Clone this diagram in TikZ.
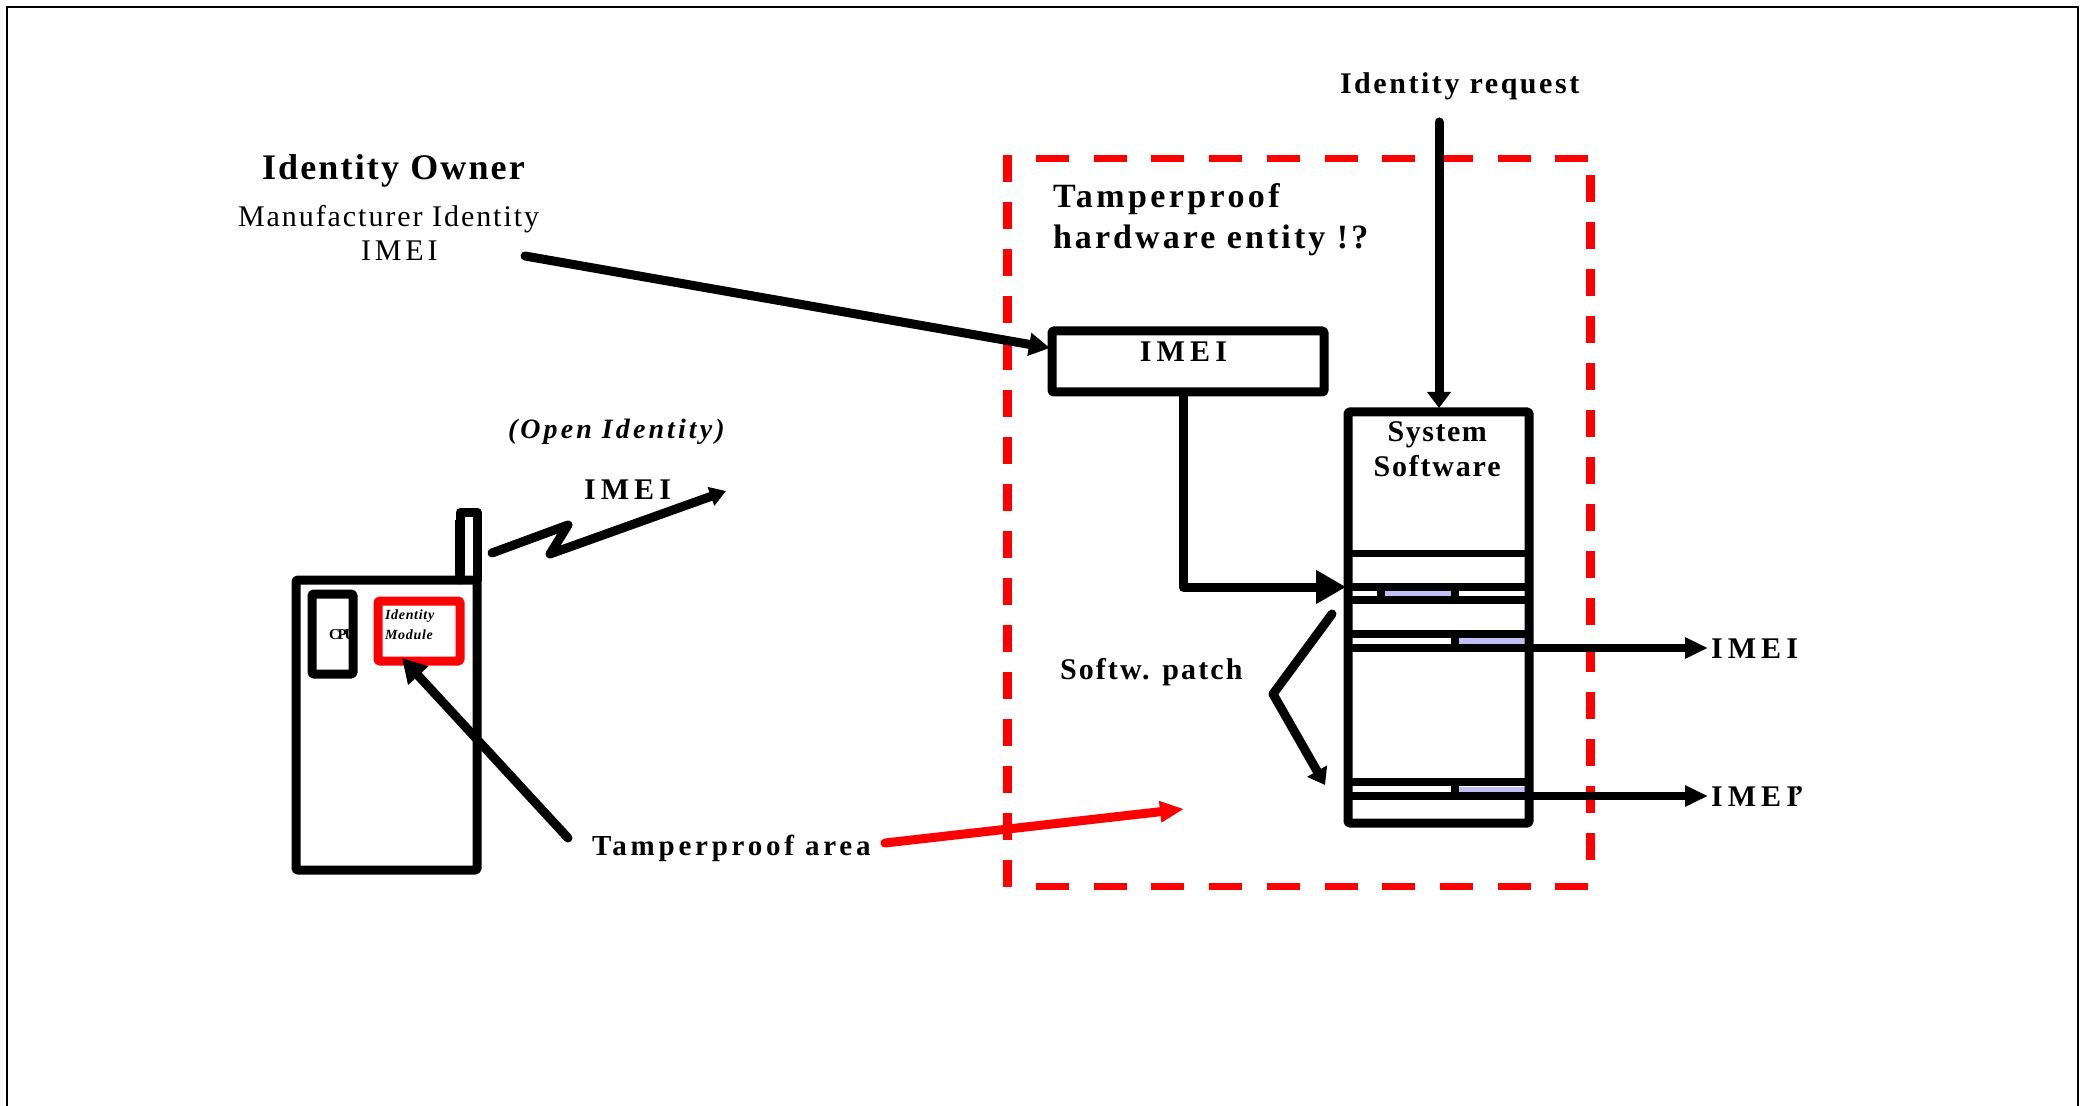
\documentclass[tikz,border=0pt]{standalone}
\usepackage{fontspec}
\setmainfont{Liberation Serif}
\usetikzlibrary{arrows.meta}
\definecolor{slotblue}{HTML}{C0C0F6}
\newcommand{\txt}[3]{\fontsize{#1}{#1}\selectfont\addfontfeature{LetterSpace=#2}#3}
\tikzset{
  x=.5pt,y=-.5pt,
  heavy/.style={line width=4.5pt,line join=round,line cap=round,draw=black},
  thinrule/.style={line width=3.5pt,draw=black},
  boxed/.style={draw=black,line width=4.5pt,line join=round,rounded corners=.6pt,inner sep=0pt,outer sep=0pt,fill=none},
  tag/.style={anchor=base west,inner sep=0pt,outer sep=0pt,text=black},
  ctag/.style={anchor=base,inner sep=0pt,outer sep=0pt,text=black,align=center},
  midhead/.style={-{Triangle[length=10.5pt,width=11pt]}},
  smallhead/.style={-{Triangle[length=8pt,width=11pt]}},
  hdash/.style={draw=red,line width=3.5pt,dash pattern=on 16.5pt off 12.35pt},
  vdash/.style={draw=red,line width=4.5pt,dash pattern=on 13.5pt off 10pt},
}
\begin{document}
\begin{tikzpicture}
\useasboundingbox (0,0) rectangle (2080,1106);
% outer frame
\draw[line width=1.2pt,draw=black] (7,1106) -- (7,7) -- (2078,7) -- (2078,1106);

% tamperproof dashed region
\coordinate (ta) at (1036,159); \coordinate (tb) at (1588,159);
\coordinate (ra) at (1590.5,175); \coordinate (rb) at (1590.5,864);
\coordinate (ba) at (1036,886); \coordinate (bb) at (1589,886);
\coordinate (la) at (1007,155); \coordinate (lb) at (1007,890);
\draw[hdash] (ta) -- (tb);
\draw[vdash] (ra) -- (rb);
\draw[hdash] (ba) -- (bb);
\draw[vdash] (la) -- (lb);

% system software stack
\fill[slotblue] (1385,591) rectangle (1451,597);
\fill[slotblue] (1459,638) rectangle (1525,644);
\fill[slotblue] (1459,787) rectangle (1525,793);
\node[boxed,minimum width=90.5pt,minimum height=205.5pt] (sys) at (1438.5,617.5) {};
\draw[thinrule] (1348,553) -- (1531,553);
\draw[heavy,line cap=butt,line width=4pt] (1348,587) -- (1529,587);
\draw[heavy,line cap=butt,line width=4pt] (1348,600) -- (1529,600);
\draw[heavy,line cap=butt,line width=4pt] (1348,634) -- (1529,634);
\draw[heavy,line cap=butt,line width=4pt] (1348,648) -- (1529,648);
\draw[heavy,line cap=butt,line width=4pt] (1348,782) -- (1529,782);
\draw[heavy,line cap=butt,line width=4pt] (1348,796) -- (1529,796);
\draw[heavy,line cap=butt,line width=4pt] (1381,587) -- (1381,600);
\draw[heavy,line cap=butt,line width=4pt] (1455,587) -- (1455,600);
\draw[heavy,line cap=butt,line width=4pt] (1455,634) -- (1455,648);
\draw[heavy,line cap=butt,line width=4pt] (1455,782) -- (1455,796);
\node[ctag] (sysa) at (1438,442) {\txt{15pt}{5}{\textbf{System}}};
\node[ctag] (sysb) at (1438,476) {\txt{15pt}{6}{\textbf{Software}}};

% IMEI box
\node[boxed,minimum width=136pt,minimum height=30.5pt] (imeibox) at (1188,361.5) {};
\node[ctag] (imeilab) at (1186,362) {\txt{15pt}{17}{\textbf{IMEI}}};

% phone
\node[boxed,minimum width=90.5pt,minimum height=145pt] (phone) at (386.5,725) {};
\node[tag] (cpulab) at (329,639) {\txt{7.5pt}{-15}{\textbf{CPU}}};
\node[boxed,minimum width=20.5pt,minimum height=40pt] (cpu) at (332.5,634) {};
\node[boxed,draw=red,minimum width=41pt,minimum height=30pt] (module) at (419,631) {};
\node[tag] (moda) at (385,619) {\txt{7pt}{5}{\textbf{\textit{Identity}}}};
\node[tag] (modb) at (385,639) {\txt{7pt}{5}{\textbf{\textit{Module}}}};
\coordinate (antl) at (460,580); \coordinate (antlt) at (460,512);
\coordinate (antrt) at (477,512); \coordinate (antr) at (477,580);
\draw[heavy] (antl) -- (antlt) -- (antrt) -- (antr);
\draw[line width=5pt,line cap=butt] (460,520) -- (460,580);

% labels
\node[tag] (owner) at (262,180) {\txt{18pt}{6}{\textbf{Identity Owner}}};
\node[tag] (manu) at (238,227) {\txt{15pt}{6.5}{Manufacturer Identity}};
\node[tag] (manuimei) at (361,261) {\txt{15pt}{13}{IMEI}};
\node[tag] (req) at (1340,94) {\txt{15pt}{8.5}{\textbf{Identity request}}};
\node[tag] (tampa) at (1053,208) {\txt{17pt}{10}{\textbf{Tamperproof}}};
\node[tag] (tampb) at (1053,249) {\txt{17pt}{9}{\textbf{hardware entity !?}}};
\node[tag] (open) at (508,438) {\txt{14pt}{11}{\textbf{\textit{(Open Identity)}}}};
\node[tag] (imeiradio) at (584,499) {\txt{15pt}{17}{\textbf{IMEI}}};
\node[tag] (area) at (592,855) {\txt{14.5pt}{13}{\textbf{Tamperproof area}}};
\node[tag] (patch) at (1060,679) {\txt{15pt}{7}{\textbf{Softw. patch}}};
\node[tag] (imeiA) at (1711,658) {\txt{15pt}{17}{\textbf{IMEI}}};
\node[tag] (imeiB) at (1711,806) {\txt{15pt}{17}{\textbf{IMEI\kern-2pt'}}};

% connectors
\coordinate (ownerS) at (525,256); \coordinate (ownerE) at (1050,348);
\draw[heavy,midhead] (ownerS) -- (ownerE);
\coordinate (reqS) at (1439,122); \coordinate (reqE) at (1439,408);
\draw[heavy,-{Triangle[length=8pt,width=11.5pt]}] (reqS) -- (reqE);
\coordinate (elbE) at (1346,587);
\draw[heavy,line cap=butt,-{Triangle[length=15pt,width=16pt]}] (imeibox.south -| 1183,392) -- (1183,587) -- (elbE);
\coordinate (outAS) at (1529,648); \coordinate (outAE) at (1708,648);
\coordinate (outBS) at (1529,796); \coordinate (outBE) at (1708,796);
\draw[heavy,line width=4pt,line cap=butt,-{Triangle[length=11.5pt,width=10pt]}] (outAS) -- (outAE);
\draw[heavy,line width=4pt,line cap=butt,-{Triangle[length=11.5pt,width=10pt]}] (outBS) -- (outBE);
\coordinate (pa) at (1332,614); \coordinate (pb) at (1273,694); \coordinate (pc) at (1325,785);
\draw[heavy,smallhead] (pa) -- (pb) -- (pc);
\coordinate (za) at (492,553); \coordinate (zb) at (568,525); \coordinate (zc) at (550,554); \coordinate (zd) at (726,491);
\draw[heavy,-{Triangle[length=8pt,width=9.5pt]}] (za) -- (zb) -- (zc) -- (zd);
\coordinate (areaA) at (568,838); \coordinate (areaB) at (402,658);
\draw[heavy,-{Triangle[length=12pt,width=13pt]}] (areaA) -- (areaB);
\coordinate (areaC) at (885,843); \coordinate (areaD) at (1184,809);
\draw[heavy,draw=red,fill=none,-{Triangle[length=12pt,width=10pt,fill=red,color=red]}] (areaC) -- (areaD);
\end{tikzpicture}
\end{document}
